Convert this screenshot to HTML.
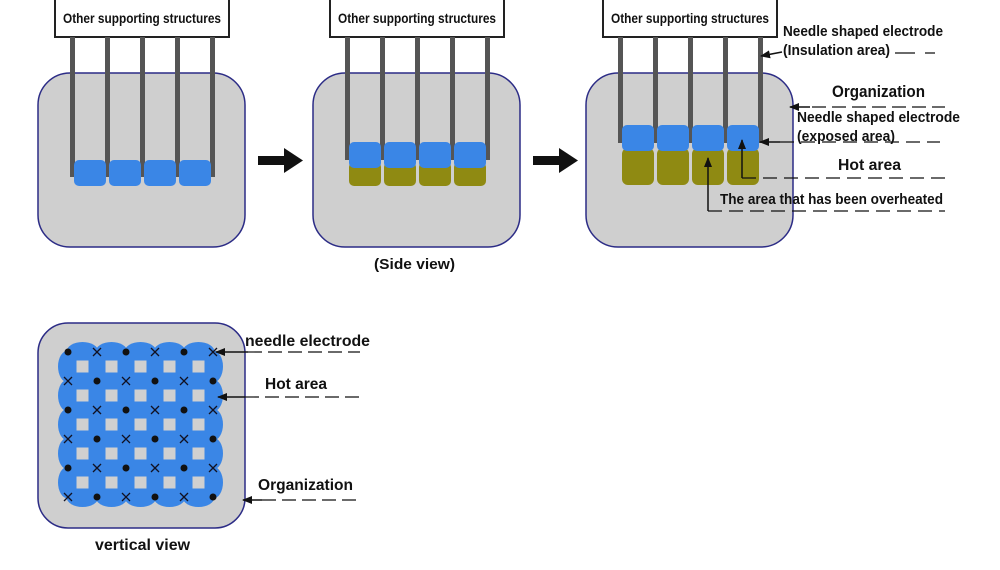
<!DOCTYPE html>
<html><head><meta charset="utf-8"><style>
html,body{margin:0;padding:0;background:#fff;width:1000px;height:570px;overflow:hidden}
svg text{font-family:"Liberation Sans",sans-serif;font-weight:bold;fill:#111}
</style></head><body>
<svg width="1000" height="570" viewBox="0 0 1000 570" xmlns="http://www.w3.org/2000/svg">
<defs>
<g id="panelbase">
  <path d="M55,0 V37 H229 V0" fill="none" stroke="#222" stroke-width="2"/>
  <text x="63" y="23" font-size="14" textLength="158" lengthAdjust="spacingAndGlyphs">Other supporting structures</text>
  <rect x="38" y="73" width="207" height="174" rx="32" fill="#cfcfcf" stroke="#2c2c86" stroke-width="1.5"/>
</g>
<g id="blue4">
  <rect x="74" y="0" width="32" height="26" rx="5" fill="#3a86e6"/>
  <rect x="109" y="0" width="32" height="26" rx="5" fill="#3a86e6"/>
  <rect x="144" y="0" width="32" height="26" rx="5" fill="#3a86e6"/>
  <rect x="179" y="0" width="32" height="26" rx="5" fill="#3a86e6"/>
</g>
<g id="hrow">
  <ellipse cx="82.5" cy="0" rx="16" ry="10" fill="#3a86e6"/>
  <ellipse cx="111.5" cy="0" rx="16" ry="10" fill="#3a86e6"/>
  <ellipse cx="140.5" cy="0" rx="16" ry="10" fill="#3a86e6"/>
  <ellipse cx="169.5" cy="0" rx="16" ry="10" fill="#3a86e6"/>
  <ellipse cx="198.5" cy="0" rx="16" ry="10" fill="#3a86e6"/>
</g>
<g id="vcol">
  <ellipse cx="0" cy="366.5" rx="10" ry="16" fill="#3a86e6"/>
  <ellipse cx="0" cy="395.5" rx="10" ry="16" fill="#3a86e6"/>
  <ellipse cx="0" cy="424.5" rx="10" ry="16" fill="#3a86e6"/>
  <ellipse cx="0" cy="453.5" rx="10" ry="16" fill="#3a86e6"/>
  <ellipse cx="0" cy="482.5" rx="10" ry="16" fill="#3a86e6"/>
</g>
<g id="sqrow">
  <rect x="76.5" y="-6" width="12" height="12" fill="#d0d0d0"/>
  <rect x="105.5" y="-6" width="12" height="12" fill="#d0d0d0"/>
  <rect x="134.5" y="-6" width="12" height="12" fill="#d0d0d0"/>
  <rect x="163.5" y="-6" width="12" height="12" fill="#d0d0d0"/>
  <rect x="192.5" y="-6" width="12" height="12" fill="#d0d0d0"/>
</g>
<g id="x"><path d="M-4,-4 L4,4 M4,-4 L-4,4" stroke="#112" stroke-width="1.3"/></g>
<g id="d"><circle r="3.5" fill="#111"/></g>
<g id="mrowA">
  <use href="#d" x="68"/><use href="#x" x="97"/><use href="#d" x="126"/><use href="#x" x="155"/><use href="#d" x="184"/><use href="#x" x="213"/>
</g>
<g id="mrowB">
  <use href="#x" x="68"/><use href="#d" x="97"/><use href="#x" x="126"/><use href="#d" x="155"/><use href="#x" x="184"/><use href="#d" x="213"/>
</g>
<marker id="ah" markerWidth="10" markerHeight="10" refX="9" refY="5" orient="auto" markerUnits="userSpaceOnUse"><path d="M0,1 L10,5 L0,9 Z" fill="#111"/></marker>
</defs>

<!-- Panel 1 -->
<use href="#panelbase"/>
<g fill="#555">
  <rect x="70" y="37" width="5" height="140"/><rect x="105" y="37" width="5" height="140"/>
  <rect x="140" y="37" width="5" height="140"/><rect x="175" y="37" width="5" height="140"/>
  <rect x="210" y="37" width="5" height="140"/>
</g>
<use href="#blue4" y="160"/>

<rect x="258" y="156" width="28" height="9" fill="#111"/>
<path d="M284,148 L303,160.5 L284,173 Z" fill="#111"/>

<!-- Panel 2 -->
<g transform="translate(275,0)">
  <use href="#panelbase"/>
  <g fill="#555">
    <rect x="70" y="37" width="5" height="123"/><rect x="105" y="37" width="5" height="123"/>
    <rect x="140" y="37" width="5" height="123"/><rect x="175" y="37" width="5" height="123"/>
    <rect x="210" y="37" width="5" height="123"/>
  </g>
  <rect x="74" y="162" width="32" height="24" rx="5" fill="#8f8a12"/>
  <rect x="109" y="162" width="32" height="24" rx="5" fill="#8f8a12"/>
  <rect x="144" y="162" width="32" height="24" rx="5" fill="#8f8a12"/>
  <rect x="179" y="162" width="32" height="24" rx="5" fill="#8f8a12"/>
  <use href="#blue4" y="142"/>
</g>
<text x="374" y="269" font-size="15" textLength="81" lengthAdjust="spacingAndGlyphs">(Side view)</text>

<rect x="533" y="156" width="28" height="9" fill="#111"/>
<path d="M559,148 L578,160.5 L559,173 Z" fill="#111"/>

<!-- Panel 3 -->
<g transform="translate(548,0)">
  <use href="#panelbase"/>
  <g fill="#555">
    <rect x="70" y="37" width="5" height="106"/><rect x="105" y="37" width="5" height="106"/>
    <rect x="140" y="37" width="5" height="106"/><rect x="175" y="37" width="5" height="106"/>
    <rect x="210" y="37" width="5" height="106"/>
  </g>
  <rect x="74" y="148" width="32" height="37" rx="6" fill="#8f8a12"/>
  <rect x="109" y="148" width="32" height="37" rx="6" fill="#8f8a12"/>
  <rect x="144" y="148" width="32" height="37" rx="6" fill="#8f8a12"/>
  <rect x="179" y="148" width="32" height="37" rx="6" fill="#8f8a12"/>
  <use href="#blue4" y="125"/>
</g>
<text x="783" y="36" font-size="15" textLength="160" lengthAdjust="spacingAndGlyphs">Needle shaped electrode</text>
<text x="783" y="55" font-size="15" textLength="107" lengthAdjust="spacingAndGlyphs">(Insulation area)</text>
<path d="M895,53 H915 M925,53 H935" stroke="#111" stroke-width="1.2"/>
<line x1="782" y1="52" x2="761" y2="56" stroke="#111" stroke-width="1.5" marker-end="url(#ah)"/>
<text x="832" y="97" font-size="17" textLength="93" lengthAdjust="spacingAndGlyphs">Organization</text>
<path d="M812,107 H945" stroke="#111" stroke-width="1.2" stroke-dasharray="14,6"/>
<line x1="810" y1="107" x2="790" y2="107" stroke="#111" stroke-width="1.5" marker-end="url(#ah)"/>
<text x="797" y="122" font-size="15" textLength="163" lengthAdjust="spacingAndGlyphs">Needle shaped electrode</text>
<text x="797" y="141" font-size="15" textLength="98" lengthAdjust="spacingAndGlyphs">(exposed area)</text>
<path d="M780,142 H940" stroke="#111" stroke-width="1.2" stroke-dasharray="14,7"/>
<line x1="780" y1="142" x2="760" y2="142" stroke="#111" stroke-width="1.5" marker-end="url(#ah)"/>
<text x="838" y="170" font-size="16" textLength="63" lengthAdjust="spacingAndGlyphs">Hot area</text>
<path d="M742,178 H945" stroke="#111" stroke-width="1.2" stroke-dasharray="14,7"/>
<line x1="742" y1="178" x2="742" y2="140" stroke="#111" stroke-width="1.5" marker-end="url(#ah)"/>
<text x="720" y="204" font-size="15" textLength="223" lengthAdjust="spacingAndGlyphs">The area that has been overheated</text>
<path d="M708,211 H945" stroke="#111" stroke-width="1.2" stroke-dasharray="14,7"/>
<line x1="708" y1="211" x2="708" y2="158" stroke="#111" stroke-width="1.5" marker-end="url(#ah)"/>

<!-- Vertical view -->
<rect x="38" y="323" width="207" height="205" rx="30" fill="#cfcfcf" stroke="#2c2c86" stroke-width="1.5"/>
<use href="#hrow" y="352"/><use href="#hrow" y="381"/><use href="#hrow" y="410"/>
<use href="#hrow" y="439"/><use href="#hrow" y="468"/><use href="#hrow" y="497"/>
<use href="#vcol" x="68"/><use href="#vcol" x="97"/><use href="#vcol" x="126"/>
<use href="#vcol" x="155"/><use href="#vcol" x="184"/><use href="#vcol" x="213"/>
<use href="#sqrow" y="366.5"/><use href="#sqrow" y="395.5"/><use href="#sqrow" y="424.5"/>
<use href="#sqrow" y="453.5"/><use href="#sqrow" y="482.5"/>
<use href="#mrowA" y="352"/><use href="#mrowB" y="381"/><use href="#mrowA" y="410"/>
<use href="#mrowB" y="439"/><use href="#mrowA" y="468"/><use href="#mrowB" y="497"/>
<text x="95" y="550" font-size="16" textLength="95" lengthAdjust="spacingAndGlyphs">vertical view</text>

<text x="245" y="346" font-size="16" textLength="125" lengthAdjust="spacingAndGlyphs">needle electrode</text>
<path d="M248,352 H360" stroke="#111" stroke-width="1.2" stroke-dasharray="14,6"/>
<line x1="248" y1="352" x2="216" y2="352" stroke="#111" stroke-width="1.5" marker-end="url(#ah)"/>
<text x="265" y="389" font-size="16" textLength="62" lengthAdjust="spacingAndGlyphs">Hot area</text>
<path d="M245,397 H360" stroke="#111" stroke-width="1.2" stroke-dasharray="14,6"/>
<line x1="245" y1="397" x2="218" y2="397" stroke="#111" stroke-width="1.5" marker-end="url(#ah)"/>
<text x="258" y="490" font-size="16" textLength="95" lengthAdjust="spacingAndGlyphs">Organization</text>
<path d="M262,500 H360" stroke="#111" stroke-width="1.2" stroke-dasharray="14,6"/>
<line x1="262" y1="500" x2="243" y2="500" stroke="#111" stroke-width="1.5" marker-end="url(#ah)"/>
</svg>
</body></html>
